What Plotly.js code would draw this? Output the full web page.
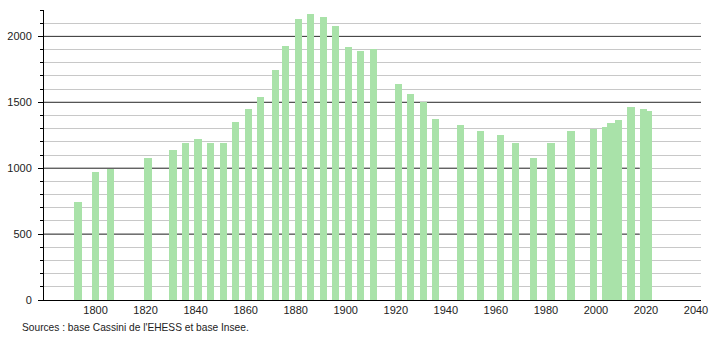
<!DOCTYPE html>
<html>
<head>
<meta charset="utf-8">
<script src="https://cdn.plot.ly/plotly-3.0.1.min.js"></script>
<style>html,body{margin:0;padding:0;background:#fff;}#chart{width:710px;height:340px;}</style>
</head>
<body>
<div id="chart"></div>
<script>
const years = [1793,1800,1806,1821,1831,1836,1841,1846,1851,1856,1861,1866,1872,1876,1881,1886,1891,1896,1901,1906,1911,1921,1926,1931,1936,1946,1954,1962,1968,1975,1982,1990,1999,2004,2006,2009,2014,2019,2021];
const population = [743,971,991,1077,1138,1193,1221,1193,1193,1350,1449,1542,1745,1927,2132,2167,2149,2076,1917,1891,1904,1641,1565,1500,1373,1328,1282,1252,1193,1077,1193,1282,1295,1315,1340,1366,1462,1447,1436];
const xTicks = [1800,1820,1840,1860,1880,1900,1920,1940,1960,1980,2000,2020,2040];
const yTicks = [0,500,1000,1500,2000];
const sourceText = "Sources : base Cassini de l'EHESS et base Insee.";

const X0 = 1779.4, X1 = 2042;
const shapes = [];
// major grid lines (between minor grid and bars)
yTicks.slice(1).forEach(v => {
  if (v === 500 || v === 1000) {
    shapes.push({type:'line', layer:'between', xref:'x', yref:'y', x0:X0, x1:2017.5, y0:v, y1:v, line:{color:'#333', width:1}});
  } else {
    shapes.push({type:'line', layer:'between', xref:'x', yref:'y', x0:X0, x1:X1, y0:v, y1:v, line:{color:'#333', width:1}});
  }
});

const trace = {
  type:'bar', x: years, y: population, width: 2.9,
  marker:{color:'#a9e2a9', line:{width:0}},
  hoverinfo:'x+y'
};

const layout = {
  width:710, height:340,
  margin:{l:44, r:9, t:10, b:40},
  paper_bgcolor:'#fff', plot_bgcolor:'#fff',
  font:{family:'"Liberation Sans", Arial, sans-serif', size:11, color:'#222'},
  showlegend:false,
  bargap:0,
  xaxis:{
    range:[X0, X1], tickvals: xTicks, ticktext: xTicks.map(String),
    showgrid:false, zeroline:false, showline:true, linecolor:'#000', linewidth:1,
    ticks:'', tickfont:{size:11, color:'#222'}
  },
  yaxis:{
    range:[0, 2200], tickvals: yTicks, showgrid:false, zeroline:false,
    showline:true, linecolor:'#000', linewidth:1,
    ticks:'outside', ticklen:5, tickcolor:'#000', tickwidth:1,
    ticklabelstandoff:4,
    tickfont:{size:11, color:'#222'},
    minor:{dtick:100, ticks:'outside', ticklen:3, tickcolor:'#000', showgrid:true, gridcolor:'#c8c8c8', gridwidth:1}
  },
  shapes: shapes,
  annotations:[{
    text: sourceText, xref:'paper', yref:'paper', x:-24/657, y:0,
    xanchor:'left', yanchor:'top', yshift:-20, showarrow:false,
    font:{size:10.2, color:'#222'}
  }]
};

Plotly.newPlot('chart', [trace], layout, {displayModeBar:false, staticPlot:true});
</script>
</body>
</html>
